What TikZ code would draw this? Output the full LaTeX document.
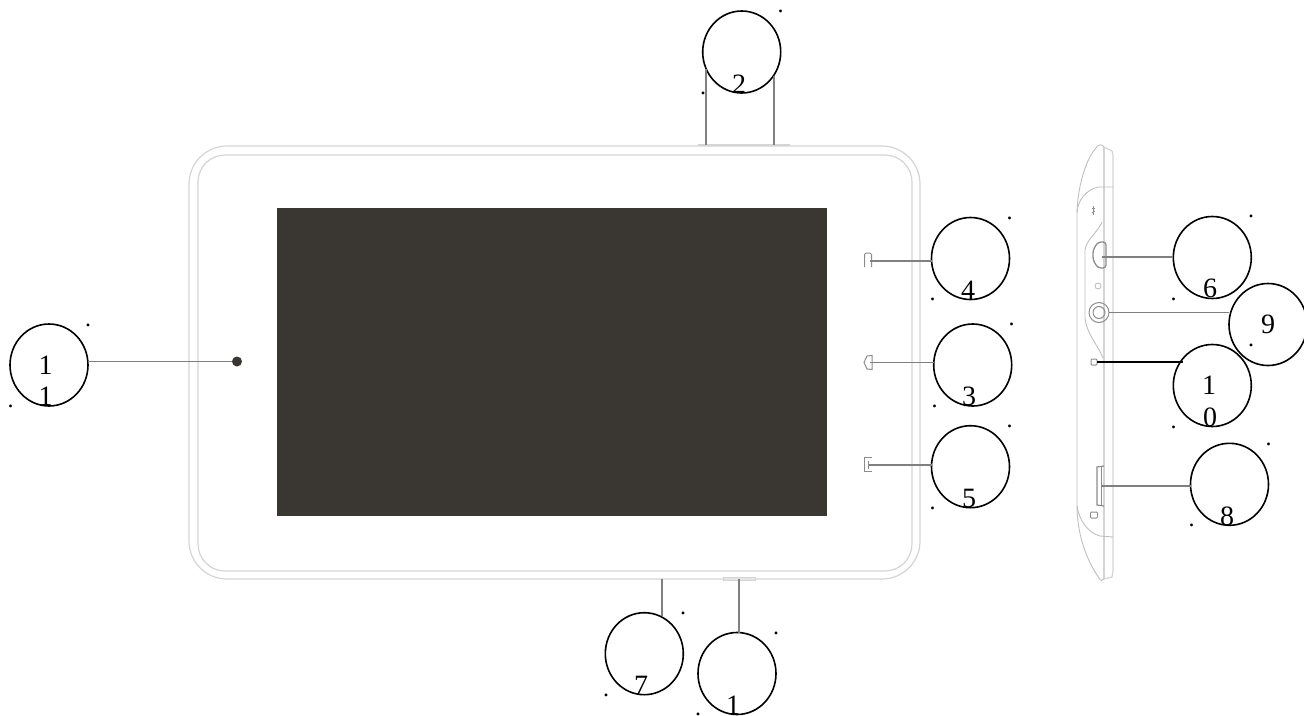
\documentclass[tikz,border=0pt]{standalone}
\usepackage{fontspec}
\usetikzlibrary{shapes.geometric}
\setmainfont{Liberation Serif}
\definecolor{scr}{HTML}{3A3733}
\definecolor{body}{HTML}{D4D4D4}
\definecolor{ldr}{HTML}{808080}
\tikzset{
  x=1pt,y=-1pt,
  callout/.style={draw=black,line width=1.6pt,ellipse,minimum width=78pt,minimum height=82pt,inner sep=0pt,outer sep=0pt,fill=none},
  digit/.style={anchor=base,inner sep=0pt,font=\fontsize{28}{28}\selectfont},
  speck/.style={anchor=base,inner sep=0pt,font=\fontsize{24}{24}\selectfont},
  shell/.style={draw=body,line width=1.2pt},
  sidefine/.style={draw=body!90!black,line width=0.9pt},
  sidepart/.style={draw=black!45,line width=1pt},
  leader/.style={draw=ldr,line width=1.3pt},
}
\begin{document}
\begin{tikzpicture}
\useasboundingbox (0,0) rectangle (1304,715);
% tablet front
\draw[shell,rounded corners=38pt] (189,146) rectangle (920,579);
\draw[shell,rounded corners=27pt] (198,155) rectangle (912,571);
\node[draw=none,fill=scr,inner sep=0pt,minimum width=550pt,minimum height=308pt] (screen) at (552,362) {};
\node[circle,fill=scr,inner sep=0pt,minimum size=10pt] (cam) at (237,361.5) {};
\draw[shell,line width=1.4pt] (698,145) -- (790,145);
\draw[draw=body,fill=body!60] (723,577) rectangle (755,580);
% front icons
\draw[sidepart,rounded corners=1.5pt] (864.5,267) -- (864.5,253) -- (871.5,253) -- (871.5,267);
\draw[sidepart] (872,355.5) -- (867,356) -- (864,362.5) -- (867,369) -- (872,369.5) -- cycle;
\draw[sidepart] (872,457) -- (864.5,457) -- (864.5,471.5) -- (872,471.5);
\draw[sidepart] (868.5,461) -- (868.5,469);
% side view
\draw[sidefine] (1096,148) .. controls (1085,160) and (1077,190) .. (1077,215) -- (1077,505) .. controls (1077,540) and (1090,565) .. (1099,578);
\draw[sidefine] (1096,148) .. controls (1098,144) and (1102,144) .. (1104,147);
\draw[shell] (1104,147) -- (1112,151) -- (1113,155) -- (1113,571) -- (1112,577) -- (1104,579);
\draw[shell] (1104,147) -- (1104,579);
\draw[sidefine] (1099,578) .. controls (1100,581) and (1103,581) .. (1104,579);
\draw[sidefine] (1113,187) -- (1098,187) .. controls (1086,190) and (1078,200) .. (1077,212);
\draw[sidefine] (1113,537) -- (1100,536) .. controls (1088,533) and (1079,520) .. (1077,506);
\draw[sidefine] (1102,222) .. controls (1098,232) and (1086,240) .. (1085,250) -- (1085,318) .. controls (1087,335) and (1098,345) .. (1103,358);
\draw[sidepart,line width=1.3pt,rounded corners=3pt] (1106,242) -- (1098,242) -- (1093,250) -- (1093,260) -- (1098,268) -- (1106,268) -- cycle;
\node[sidefine,draw,circle,minimum size=6pt,inner sep=0pt] (led) at (1098,286) {};
\node[sidepart,draw,circle,minimum size=20pt,inner sep=0pt] (jackouter) at (1099,312.5) {};
\node[sidepart,draw,circle,minimum size=12pt,inner sep=0pt] (jack) at (1099,312.5) {};
\node[sidepart,draw,rounded corners=1pt,minimum size=6pt,inner sep=0pt] (reset) at (1094,362) {};
\draw[sidepart,line width=1.2pt] (1104,466) -- (1097,467) -- (1097,505) -- (1104,506);
\draw[sidepart,line width=0.5pt] (1101,467) -- (1101,505);
\node[sidepart,draw,rounded corners=1pt,minimum width=7pt,minimum height=6pt,inner sep=0pt] (sdicon) at (1094,515) {};
\draw[sidepart,line width=0.8pt] (1093,206) -- (1093,215);
\draw[sidepart,line width=0.8pt] (1092,208) -- (1095,208);
\draw[sidepart,line width=0.8pt] (1092,213) -- (1095,211);
% callouts
\node[callout] (c2) at (741.7,52) {};
\node[callout] (c4) at (970.5,258.5) {};
\node[callout] (c3) at (972.7,365) {};
\node[callout] (c5) at (970.5,466.7) {};
\node[callout] (c7) at (644.3,653.7) {};
\node[callout] (c1) at (737,673.5) {};
\node[callout] (c11) at (49,365) {};
\node[callout] (c6) at (1212.3,257.5) {};
\node[callout] (c9) at (1268,324.5) {};
\node[callout] (c10) at (1212.3,385.5) {};
\node[callout] (c8) at (1229.5,484.3) {};
% leader ends
\coordinate (t2a) at (706,145); \coordinate (t2ae) at (706,69);
\coordinate (t2b) at (774,145); \coordinate (t2be) at (774,76);
\coordinate (t4) at (870,261);
\coordinate (t3) at (870,362.7);
\coordinate (t5) at (869,465);
\coordinate (t7) at (662,579); \coordinate (t7e) at (662,616);
\coordinate (t1) at (739,579); \coordinate (t1e) at (739,633);
\coordinate (t11) at (232,361.7);
\coordinate (t6) at (1102,257);
\coordinate (t9) at (1109,312.7);
\coordinate (t10) at (1097,362); \coordinate (t10e) at (1183,362);
\coordinate (t8) at (1101,486);
\draw[leader] (t2a) -- (t2ae);
\draw[leader] (t2b) -- (t2be);
\draw[leader] (t4) -- (t4 -| c4.west);
\draw[leader] (t3) -- (t3 -| c3.west);
\draw[leader] (t5) -- (t5 -| c5.west);
\draw[leader] (t7) -- (t7e);
\draw[leader] (t1) -- (t1e);
\draw[leader] (t11) -- (t11 -| c11.east);
\draw[leader] (t6) -- (t6 -| c6.west);
\draw[leader] (t9) -- (t9 -| c9.west);
\draw[draw=black,line width=1.4pt] (t10) -- (t10e);
\draw[leader] (t8) -- (t8 -| c8.west);
% digits
\node[digit] (d2) at (739,93) {2};
\node[digit] (d4) at (968,299) {4};
\node[digit] (d3) at (969,405.5) {3};
\node[digit] (d5) at (969,507) {5};
\node[digit] (d7) at (641,694.5) {7};
\node[digit] (d1) at (733,714) {1};
\node[digit] (d11a) at (45.7,374) {1};
\node[digit] (d11b) at (45.7,405.7) {1};
\node[digit] (d6) at (1210,297.7) {6};
\node[digit] (d9) at (1268,333) {9};
\node[digit] (d10a) at (1209,394) {1};
\node[digit] (d10b) at (1210,426.7) {0};
\node[digit] (d8) at (1227,525) {8};
% specks
\node[speck] (s1) at (780.7,12.5) {.};
\node[speck] (s2) at (703,94.5) {.};
\node[speck] (s3) at (1009.5,219.5) {.};
\node[speck] (s4) at (932.5,300.5) {.};
\node[speck] (s5) at (1011.5,325.5) {.};
\node[speck] (s6) at (934.5,407.5) {.};
\node[speck] (s7) at (1009.5,427.5) {.};
\node[speck] (s8) at (932.5,509) {.};
\node[speck] (s9) at (683,614.5) {.};
\node[speck] (s10) at (606,696.5) {.};
\node[speck] (s11) at (776,634.5) {.};
\node[speck] (s12) at (698,715) {.};
\node[speck] (s13) at (88,326) {.};
\node[speck] (s14) at (10.7,407.5) {.};
\node[speck] (s15) at (1251,217.5) {.};
\node[speck] (s16) at (1173.7,300) {.};
\node[speck] (s17) at (1251,346) {.};
\node[speck] (s18) at (1173.7,428) {.};
\node[speck] (s19) at (1268.7,445) {.};
\node[speck] (s20) at (1191.5,526.5) {.};
\end{tikzpicture}
\end{document}
